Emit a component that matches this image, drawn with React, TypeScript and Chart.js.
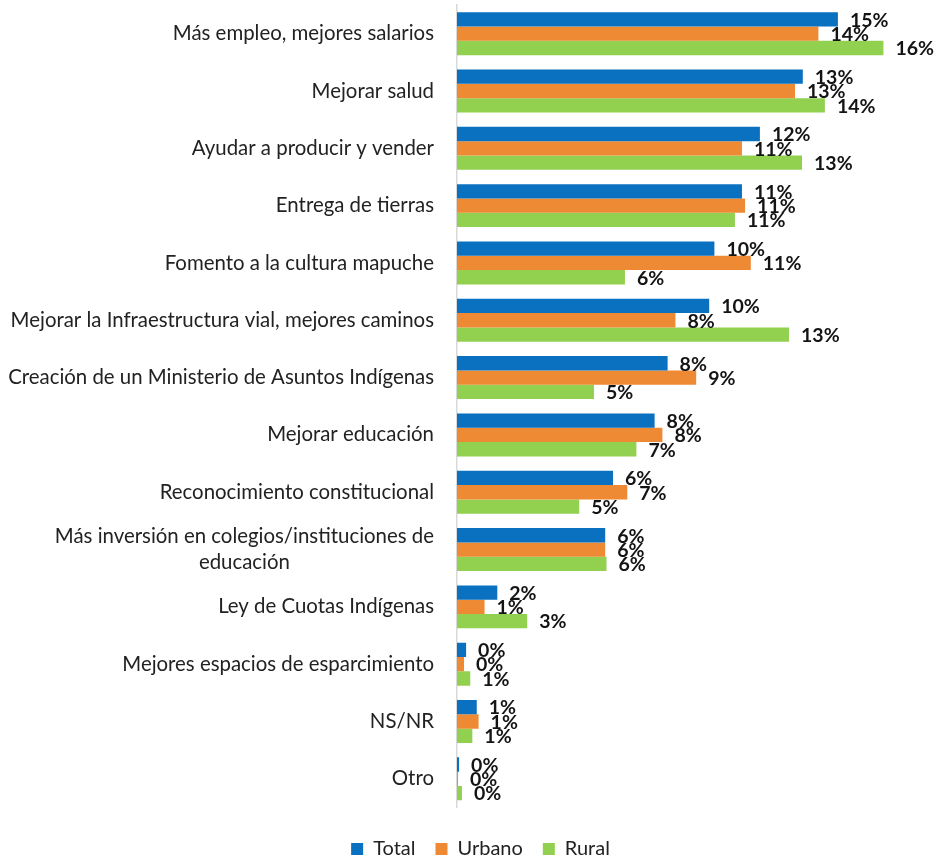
import React, { useEffect, useRef } from "react";
import { Chart, registerables } from "chart.js";

Chart.register(...registerables);

const categories = [
  "Más empleo, mejores salarios",
  "Mejorar salud",
  "Ayudar a producir y vender",
  "Entrega de tierras",
  "Fomento a la cultura mapuche",
  "Mejorar la Infraestructura vial, mejores caminos",
  "Creación de un Ministerio de Asuntos Indígenas",
  "Mejorar educación",
  "Reconocimiento constitucional",
  "Más inversión en colegios/instituciones de\neducación",
  "Ley de Cuotas Indígenas",
  "Mejores espacios de esparcimiento",
  "NS/NR",
  "Otro",
];

const seriesNames = ["Total", "Urbano", "Rural"];
const totalValues = [14.65, 13.3, 11.65, 10.96, 9.9, 9.7, 8.1, 7.6, 6.0, 5.7, 1.55, 0.35, 0.76, 0.08];
const urbanoValues = [13.9, 13.0, 10.96, 11.08, 11.3, 8.4, 9.2, 7.9, 6.55, 5.7, 1.06, 0.27, 0.83, 0.04];
const ruralValues = [16.4, 14.15, 13.27, 10.69, 6.46, 12.77, 5.27, 6.9, 4.7, 5.75, 2.7, 0.51, 0.59, 0.19];
const seriesColors = ["#0A70C0", "#EE8A33", "#92D050"];

const FONT = "Lato, 'Open Sans', sans-serif";

const valueLabelPlugin = {
  id: "valueLabels",
  afterDatasetsDraw(chart: any) {
    const ctx = chart.ctx;
    ctx.save();
    ctx.font = `bold 19.5px ${FONT}`;
    ctx.fillStyle = "#141414";
    ctx.textAlign = "left";
    ctx.textBaseline = "middle";
    chart.data.datasets.forEach((ds: any, di: number) => {
      const meta = chart.getDatasetMeta(di);
      meta.data.forEach((bar: any, i: number) => {
        const v = ds.data[i];
        ctx.fillText(`${Math.round(v)}%`, bar.x + 12, bar.y + 1);
      });
    });
    ctx.restore();
  },
};

const categoryLabelPlugin = {
  id: "categoryLabels",
  afterDraw(chart: any) {
    const ctx = chart.ctx;
    const yScale = chart.scales.y;
    const right = chart.chartArea.left - 23;
    ctx.save();
    ctx.font = `20.4px ${FONT}`;
    ctx.fillStyle = "#222222";
    ctx.textBaseline = "middle";
    categories.forEach((label, i) => {
      const lines = label.split("\n");
      const cy = yScale.getPixelForValue(i);
      const lh = 26;
      if (lines.length === 1) {
        ctx.textAlign = "right";
        ctx.fillText(lines[0], right, cy);
      } else {
        const widths = lines.map((l) => ctx.measureText(l).width);
        const maxW = Math.max(...widths);
        const cx = right - maxW / 2;
        ctx.textAlign = "center";
        lines.forEach((l, li) => {
          const y = cy + (li - (lines.length - 1) / 2) * lh;
          ctx.fillText(l, cx, y);
        });
      }
    });
    ctx.restore();
  },
};

export default function App() {
  const canvasRef = useRef<HTMLCanvasElement | null>(null);

  useEffect(() => {
    if (!canvasRef.current) return;
    const chart = new Chart(canvasRef.current, {
      type: "bar",
      data: {
        labels: categories,
        datasets: [
          { label: seriesNames[0], data: totalValues, backgroundColor: seriesColors[0], borderWidth: 0 },
          { label: seriesNames[1], data: urbanoValues, backgroundColor: seriesColors[1], borderWidth: 0 },
          { label: seriesNames[2], data: ruralValues, backgroundColor: seriesColors[2], borderWidth: 0 },
        ],
      },
      options: {
        indexAxis: "y",
        responsive: false,
        animation: false,
        datasets: {
          bar: { categoryPercentage: 0.75, barPercentage: 1.0 },
        },
        layout: { padding: { top: 5, right: 19, left: 36, bottom: 0 } },
        scales: {
          x: {
            min: 0,
            max: 18,
            position: "bottom",
            grid: { display: false },
            border: { display: false },
            ticks: { display: false },
            afterFit: (scale: any) => {
              scale.height = 11.5;
            },
          },
          y: {
            grid: { display: false },
            border: { display: true, color: "#d9d9d9", width: 1.5 },
            ticks: { display: false },
            afterFit: (scale: any) => {
              scale.width = 421;
            },
          },
        },
        plugins: {
          legend: {
            position: "bottom",
            labels: {
              boxWidth: 12,
              boxHeight: 12,
              padding: 20,
              color: "#222222",
              font: { family: FONT, size: 20 },
            },
          },
          tooltip: { enabled: false },
        },
      },
      plugins: [valueLabelPlugin, categoryLabelPlugin],
    });
    return () => chart.destroy();
  }, []);

  return (
    <div style={{ position: "fixed", left: 0, top: 0, width: 944, height: 869, background: "#ffffff" }}>
      <canvas ref={canvasRef} width={944} height={869} />
    </div>
  );
}
